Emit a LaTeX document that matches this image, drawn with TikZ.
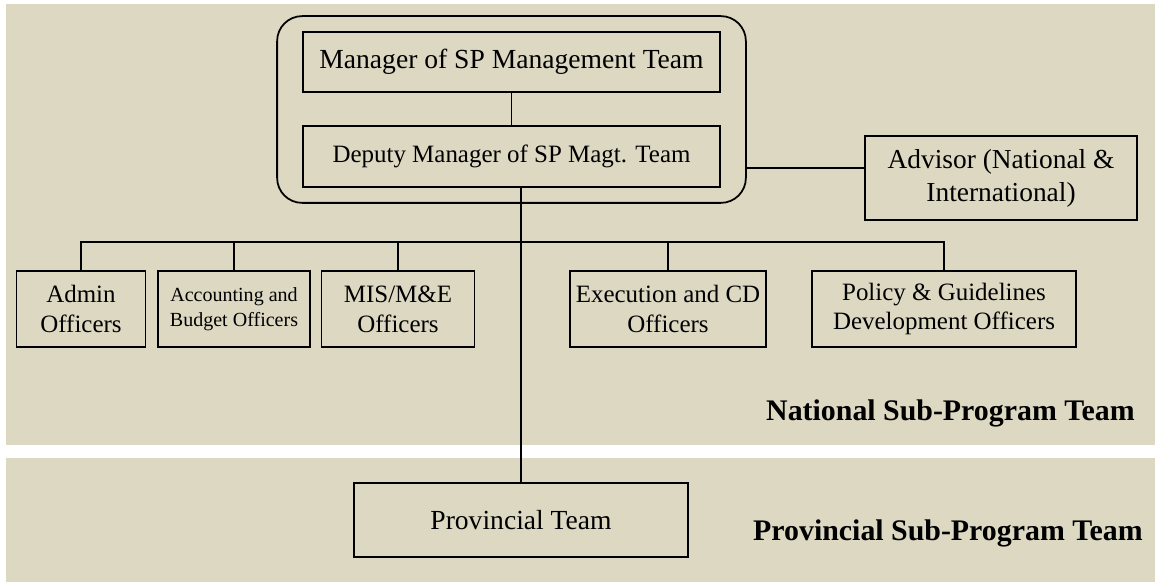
\documentclass[tikz,border=0pt]{standalone}
\usepackage{fontspec}
\setmainfont{Liberation Serif}
\usetikzlibrary{positioning, fit}
\definecolor{bandbg}{RGB}{220,216,194}

\tikzset{
  post/.style={draw, line width=1pt, align=center, inner sep=0pt,
    minimum height=1.52cm, font=\fontsize{14.2}{17}\selectfont},
  link/.style={line width=0.9pt},
  tier/.style={font=\fontsize{17}{20}\selectfont\bfseries, inner sep=0pt},
}

\begin{document}
\begin{tikzpicture}[node distance=2cm, on grid]
   \useasboundingbox (0,0) rectangle (23.1,-11.64);
   % the two bands
   \fill[bandbg] (0.12,-0.08) rectangle (23.1,-8.9);
   \fill[bandbg] (0.12,-9.16) rectangle (23.1,-11.64);

   \node[post, minimum width=8.34cm, minimum height=1.2cm, font=\fontsize{15.7}{18}\selectfont] (mgr) at (10.23,-1.24) {Manager of SP Management Team};
   \node[post, minimum width=8.34cm, minimum height=1.22cm] (dep) [below=1.89cm of mgr] {Deputy Manager of SP Magt. Team};
   \node[draw, line width=1pt, rounded corners=0.5cm, fit=(mgr)(dep), inner xsep=0.5cm, inner ysep=0.3cm] (team) {};
   \node[post, minimum width=5.44cm, minimum height=1.68cm, font=\fontsize{15.6}{18.8}\selectfont] (adv) at (20.02,-3.56) {Advisor (National \&\\International)};

   \node[post, minimum width=2.58cm] (admin) at (1.62,-6.18) {Admin\\Officers};
   \node[post, minimum width=3.04cm, font=\fontsize{11.4}{14.2}\selectfont] (acct) [right=3.06cm of admin] {Accounting and\\Budget Officers};
   \node[post, minimum width=3.06cm] (mis) [right=3.28cm of acct] {MIS/M\&E\\Officers};
   \node[post, minimum width=3.92cm] (exec) [right=5.4cm of mis] {Execution and CD\\Officers};
   \node[post, minimum width=5.27cm] (pol) [right=5.52cm of exec] {Policy \& Guidelines\\Development Officers};

   \node[post, minimum width=6.68cm, minimum height=1.48cm, font=\fontsize{15.7}{18}\selectfont] (prov) at (10.42,-10.4) {Provincial Team};

   \node[tier, anchor=base east] (natl) at (22.7,-8.4) {National Sub-Program Team};
   \node[tier, anchor=base east] (provl) at (22.86,-10.8) {Provincial Sub-Program Team};

   % connectors
   \draw[link] (mgr.south) -- (mgr.south |- dep.north);
   \coordinate (advin) at ([yshift=0.2cm]adv.west);
   \draw[link] (advin) -- (advin -| team.east);
   \draw[link] (prov.north) -- (prov.north |- dep.south);
   \coordinate (bus) at (0,-4.84);
   \draw[link] (admin.north) -- (admin.north |- bus) -- (pol.north |- bus) -- (pol.north);
   \foreach \n in {acct, mis, exec}
      \draw[link] (\n.north) -- (\n.north |- bus);
\end{tikzpicture}
\end{document}
